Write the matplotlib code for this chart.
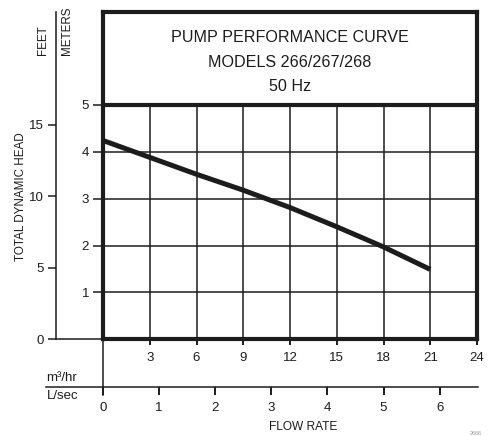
import matplotlib.pyplot as plt

plt.rcParams['font.family'] = ['Liberation Sans', 'DejaVu Sans']

# pump curve, head in meters vs flow in m3/hr
flow_m3hr = [0, 3, 6, 9, 12, 15, 18, 21]
head_m = [4.24, 3.88, 3.52, 3.18, 2.81, 2.40, 1.97, 1.49]

m3hr_ticks = [3, 6, 9, 12, 15, 18, 21, 24]
lsec_ticks = [0, 1, 2, 3, 4, 5, 6]
meter_ticks = [1, 2, 3, 4, 5]
feet_ticks = [0, 5, 10, 15]
title_lines = ['PUMP PERFORMANCE CURVE', 'MODELS 266/267/268', '50 Hz']

W, H = 488, 436
INK = '#1c1c1c'
fig = plt.figure(figsize=(W / 100, H / 100), dpi=100)


def rect(x0, y0, x1, y1):
    # pixel box (top-left origin) -> figure fraction rect
    return [x0 / W, 1 - y1 / H, (x1 - x0) / W, (y1 - y0) / H]


def ftext(x, y, s, color=INK, **kw):
    fig.text(x / W, 1 - y / H, s, color=color, **kw)


top_m = 6.98
ax = fig.add_axes(rect(103, 12, 477, 339.3))
ax.set_xlim(0, 24)
ax.set_ylim(0, top_m)
for s in ax.spines.values():
    s.set_linewidth(3.0)
    s.set_color(INK)
ax.vlines(m3hr_ticks[:-1], 0, 5, color=INK, lw=1.1)
ax.hlines(meter_ticks[:-1], 0, 24, color=INK, lw=1.1)
ax.axhline(5, color=INK, lw=3.0)
ax.plot(flow_m3hr, head_m, color=INK, lw=3.6, solid_capstyle='butt')
ax.plot([0, 0], [0, -1.19], color=INK, lw=1.1, clip_on=False)

ax.set_xticks(m3hr_ticks)
ax.set_yticks(meter_ticks)
ax.tick_params(axis='x', length=4, width=1.4, pad=5, labelsize=9.5, colors=INK)
ax.tick_params(axis='y', length=7, width=1.1, pad=3, labelsize=9.5, colors=INK)

for i, line in enumerate(title_lines):
    ax.text(12, 6.43 - i * 0.52, line, ha='center', va='center', fontsize=11.6, color=INK)

# feet scale on the far left
ax_ft = fig.add_axes(rect(56, 12, 103, 339.3))
ax_ft.set_facecolor('none')
ax_ft.set_ylim(0, top_m / 0.3048)
ax_ft.set_xticks([])
ax_ft.set_yticks(feet_ticks)
ax_ft.spines[['top', 'right']].set_visible(False)
for s in ('left', 'bottom'):
    ax_ft.spines[s].set_linewidth(1.1)
    ax_ft.spines[s].set_color(INK)
ax_ft.tick_params(axis='y', length=6, width=1.1, pad=3, labelsize=9.5, colors=INK)

# L/sec scale under the m3/hr scale
px_per_ls = 374 / 24 * 3.6
ax_ls = fig.add_axes(rect(46, 386.7, 478, 386.8))
ax_ls.set_facecolor('none')
ax_ls.set_xlim((46 - 103) / px_per_ls, (478 - 103) / px_per_ls)
ax_ls.set_yticks([])
ax_ls.set_xticks(lsec_ticks)
ax_ls.spines[['top', 'left', 'right']].set_visible(False)
ax_ls.spines['bottom'].set_linewidth(1.1)
ax_ls.spines['bottom'].set_color(INK)
ax_ls.tick_params(axis='x', length=6, width=1.4, pad=5, labelsize=9.5, colors=INK)

ftext(21, 196.5, 'TOTAL DYNAMIC HEAD', rotation=90, ha='center', va='center', fontsize=8.4)
ftext(43, 55, 'FEET', rotation=90, ha='center', va='bottom', fontsize=8.4)
ftext(67, 55, 'METERS', rotation=90, ha='center', va='bottom', fontsize=8.4)
ftext(46, 378, 'm³/hr', ha='left', va='center', fontsize=9.5)
ftext(47, 396, 'L/sec', ha='left', va='center', fontsize=9.5)
ftext(303.5, 427, 'FLOW RATE', ha='center', va='center', fontsize=8.6)
ftext(470, 435.5, '2666', ha='left', va='bottom', fontsize=4, color='#999999')

fig.savefig('out.png', dpi=100)
